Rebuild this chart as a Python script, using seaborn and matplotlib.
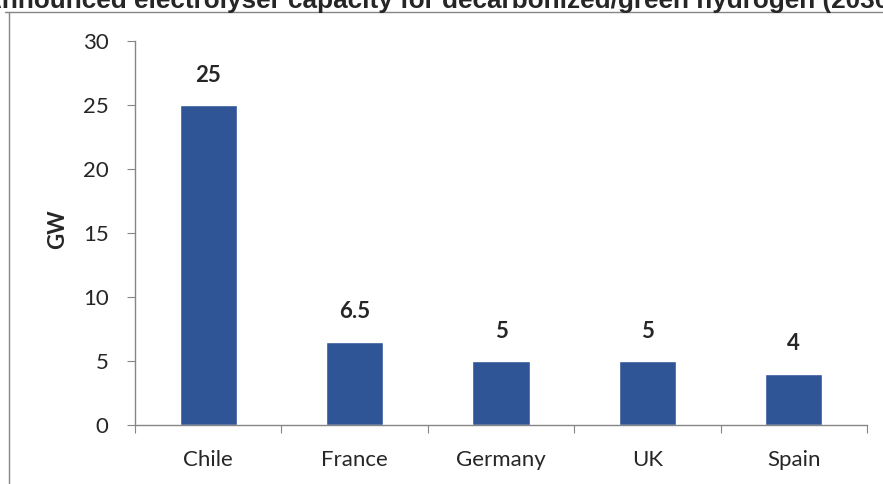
import pandas as pd
import seaborn as sns
import matplotlib.pyplot as plt
from matplotlib.lines import Line2D

# Chart data
countries = ['Chile', 'France', 'Germany', 'UK', 'Spain']
capacity_gw = [25, 6.5, 5, 5, 4]
value_labels = ['25', '6.5', '5', '5', '4']
y_ticks = [0, 5, 10, 15, 20, 25, 30]

df = pd.DataFrame({'country': countries, 'gw': capacity_gw})

sns.set_style('white')
plt.rcParams['font.family'] = ['Lato', 'DejaVu Sans']

fig = plt.figure(figsize=(8.83, 4.84), dpi=100)
ax = fig.add_axes([0.1529, 0.1219, 0.829, 0.7934])

sns.barplot(data=df, x='country', y='gw', color='#2F5597', saturation=1,
            width=0.39, ax=ax)

ax.set_ylim(0, 30)
ax.set_xlim(-0.5, 4.5)
ax.set_yticks(y_ticks)
ax.tick_params(axis='y', labelsize=16, length=6, color='#868686', pad=13,
               direction='out', left=True)

# category boundaries carry the ticks, names sit between them
ax.set_xticks([i - 0.5 for i in range(len(countries) + 1)])
ax.set_xticklabels([])
ax.set_xticks(range(len(countries)), minor=True)
ax.set_xticklabels(countries, minor=True)
ax.tick_params(axis='x', which='major', length=6, color='#868686',
               direction='out', bottom=True)
ax.tick_params(axis='x', which='minor', length=0, labelsize=16, pad=18)

ax.set_xlabel('')
ax.set_ylabel('GW', fontsize=16, fontweight='bold')
ax.yaxis.set_label_coords(-0.0915, 0.51)

for s in ['top', 'right']:
    ax.spines[s].set_visible(False)
for s in ['left', 'bottom']:
    ax.spines[s].set_color('#868686')
    ax.spines[s].set_linewidth(1)

# value labels above bars
for i, (v, lab) in enumerate(zip(capacity_gw, value_labels)):
    ax.annotate(lab, (i, v), xytext=(0, 14), textcoords='offset points',
                ha='center', va='bottom', fontsize=16, fontweight='bold')

# outer chart frame (cropped)
fx, fy = 9 / 883, 1 - 12 / 484
fig.add_artist(Line2D([fx, fx], [0, fy], color='#868686', lw=1,
                      transform=fig.transFigure))
fig.add_artist(Line2D([5 / 883, 1], [fy, fy], color='#868686', lw=1,
                      transform=fig.transFigure))

# clipped title
fig.text(-0.019, 1 - 8 / 484,
         'Announced electrolyser capacity for decarbonized/green hydrogen (2030)',
         ha='left', va='baseline', fontsize=18.8, fontweight='bold',
         family=['Liberation Sans', 'DejaVu Sans'])

fig.savefig('out.png', dpi=100)
